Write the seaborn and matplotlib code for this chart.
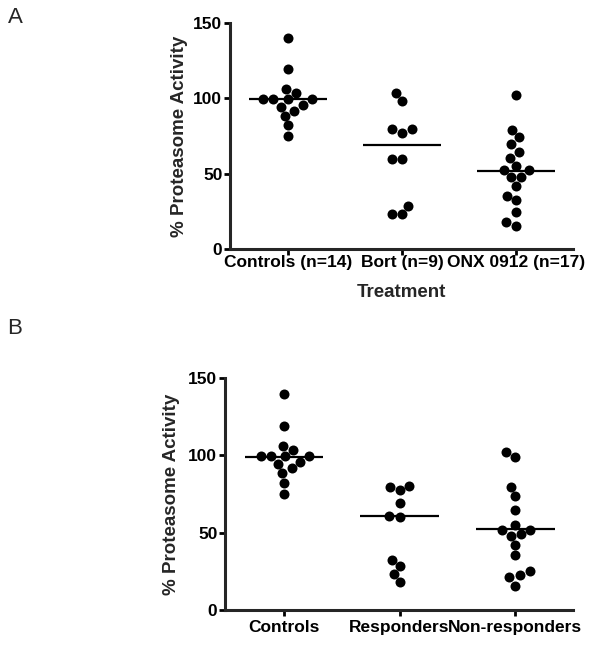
import matplotlib.pyplot as plt
import numpy as np
import pandas as pd
import seaborn as sns

# Panel A: proteasome activity by treatment
groups_a = ["Controls (n=14)", "Bort (n=9)", "ONX 0912 (n=17)"]
controls = [139.8, 119.2, 105.9, 103.5, 99.3, 99.3, 99.3, 99.3, 95.6, 94.4, 91.8, 88.5, 82.1, 75.0]
bort = [103.7, 98.4, 79.8, 79.4, 77.2, 59.9, 59.9, 28.5, 23.0, 23.0]
onx = [102.2, 79.0, 74.1, 69.5, 64.6, 60.6, 55.1, 52.4, 52.4, 48.0, 47.6,
       41.8, 35.4, 32.5, 24.3, 17.7, 15.5]
medians_a = [99.3, 68.8, 52.0]

# Panel B: proteasome activity by response
groups_b = ["Controls", "Responders", "Non-responders"]
responders = [80.3, 79.7, 77.5, 69.3, 60.6, 60.2, 32.5, 28.6, 23.4, 18.0]
non_responders = [101.9, 98.7, 79.7, 73.8, 64.5, 55.2, 51.9, 51.5, 48.9, 47.6,
                  41.8, 35.3, 24.9, 22.9, 21.2, 15.8]
medians_b = [99.2, 60.6, 52.4]

sns.set_theme(style="ticks")
plt.rcParams["font.family"] = ["Liberation Sans", "DejaVu Sans"]


def to_frame(groups, series):
    rows = []
    for name, values in zip(groups, series):
        rows += [(name, v) for v in values]
    return pd.DataFrame(rows, columns=["group", "value"])


def draw_panel(ax, groups, series, medians, xlabel=None, ylabelpad=6, xpad=0.5):
    df = to_frame(groups, series)
    sns.swarmplot(data=df, x="group", y="value", order=groups, color="black",
                  size=7.2, linewidth=0, ax=ax)
    pos = np.arange(len(groups))
    ax.hlines(medians, pos - 0.34, pos + 0.34, color="black", lw=1.6, zorder=3)
    ax.set_ylim(0, 150)
    ax.set_yticks([0, 50, 100, 150])
    ax.set_xlim(-0.51, 2.5)
    sns.despine(ax=ax)
    for side in ["left", "bottom"]:
        ax.spines[side].set_linewidth(2.2)
    ax.tick_params(axis="both", width=2, labelsize=12.5, colors="black")
    ax.tick_params(axis="x", length=4, pad=xpad)
    ax.tick_params(axis="y", length=4.5, pad=1)
    for lab in ax.get_xticklabels() + ax.get_yticklabels():
        lab.set_fontweight("bold")
    ax.set_ylabel("% Proteasome Activity", fontsize=13.5, fontweight="bold", labelpad=ylabelpad)
    if xlabel:
        ax.set_xlabel(xlabel, fontsize=13.5, fontweight="bold", labelpad=10)
    else:
        ax.set_xlabel("")


fig = plt.figure(figsize=(6.01, 6.46), dpi=100)
W, H = 601, 646
ax_a = fig.add_axes([230 / W, 1 - 249 / H, (573 - 230) / W, (249 - 23) / H])
ax_b = fig.add_axes([225 / W, 1 - 610 / H, (573 - 225) / W, (610 - 378) / H])

draw_panel(ax_a, groups_a, [controls, bort, onx], medians_a, xlabel="Treatment", ylabelpad=4)
draw_panel(ax_b, groups_b, [controls, responders, non_responders], medians_b,
           ylabelpad=6, xpad=3)

fig.text(8 / W, 1 - 7 / H, "A", fontsize=16, va="top", ha="left")
fig.text(7 / W, 1 - 318 / H, "B", fontsize=16, va="top", ha="left")

fig.savefig("out.png", dpi=100)
